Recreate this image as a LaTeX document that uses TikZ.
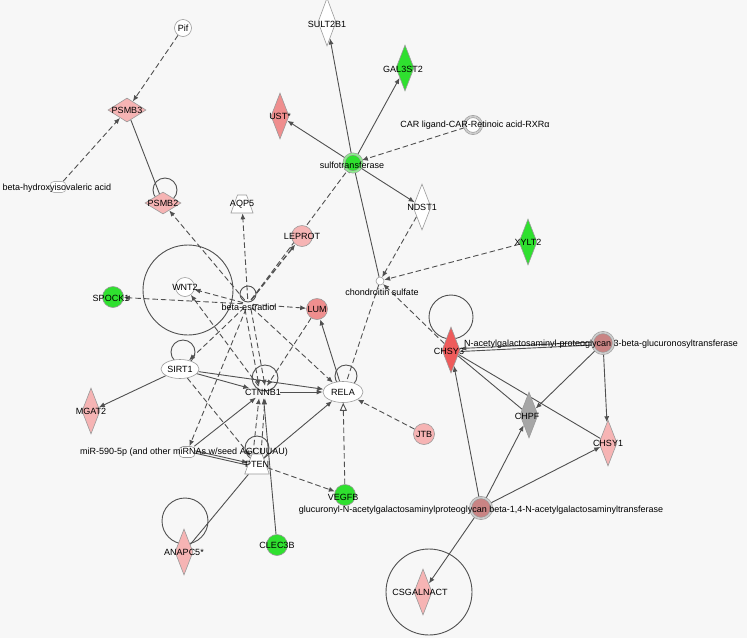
\documentclass[tikz,border=0pt]{standalone}
\usepackage{fontspec}
\setmainfont{Liberation Sans}
\usetikzlibrary{shapes.geometric, arrows.meta, positioning}
\pgfdeclarelayer{back}
\pgfdeclarelayer{wires}
\pgfsetlayers{back,wires,main}
\definecolor{bgc}{HTML}{F7F7F7}
\definecolor{upl}{HTML}{F6B4B4}
\definecolor{upm}{HTML}{EF8E8E}
\definecolor{uph}{HTML}{EE5B5B}
\definecolor{dn}{HTML}{2FE02F}
\definecolor{gry}{HTML}{A6A6A6}
\definecolor{edg}{HTML}{505050}
\definecolor{rim}{HTML}{9A9A9A}
\definecolor{enz}{HTML}{C98484}

\begin{document}
\begin{tikzpicture}[x=1pt, y=-1pt,
    mol/.style={draw=rim, line width=0.6pt, inner sep=0pt, fill=white},
    vdia/.style={mol, diamond, minimum width=18pt, minimum height=46pt},
    hdia/.style={mol, diamond, minimum width=36pt, minimum height=22pt},
    blob/.style={mol, circle, minimum size=21pt},
    oval/.style={mol, ellipse, minimum width=38pt, minimum height=19pt},
    trap/.style={mol, trapezium, trapezium angle=70, inner xsep=3pt, inner ysep=6pt, minimum width=14pt, minimum height=18pt},
    chem/.style={mol, rectangle, rounded corners=4pt, minimum width=16pt, minimum height=11pt},
    ring/.style={blob, double=gray!40, double distance=1.6pt},
    lbl/.style={font=\fontsize{9}{10}\selectfont, inner sep=0pt, text=black},
    act/.style={draw=edg, line width=0.9pt, -{Latex[length=6pt,width=5pt]}},
    ind/.style={act, dash pattern=on 5.5pt off 3pt},
    link/.style={draw=edg, line width=0.9pt},
    dlink/.style={link, dash pattern=on 5.5pt off 3pt},
    inh/.style={link, dash pattern=on 5.5pt off 3pt, -{Bar[width=7pt]}},
    opn/.style={link, dash pattern=on 5.5pt off 3pt, -{Triangle[length=8pt,width=7pt,fill=white]}},
    lp/.style={draw=edg, line width=0.9pt}
]
\begin{pgfonlayer}{back}
    \fill[bgc] (0,0) rectangle (747,638);
\end{pgfonlayer}
\useasboundingbox (0,0) rectangle (747,638);

% molecules
\node[blob, minimum size=17pt] (pif) at (183,28) {};
\node[hdia, fill=upl, minimum width=38pt, minimum height=24pt] (psmb3) at (127,110) {};
\node[chem, draw=gray!60] (bhiva) at (58,187) {};
\node[hdia, fill=upl] (psmb2) at (163,203) {};
\node[trap] (aqp5) at (242,204) {};
\node[vdia, minimum height=48pt] (sult2b1) at (327,22) {};
\node[vdia, fill=dn] (gal3st2) at (405,68) {};
\node[vdia, fill=upm] (ust) at (280,116) {};
\node[ring, minimum size=17pt] (car) at (473,125) {};
\node[ring, fill=dn, double=dn!55, minimum size=18pt] (sulfo) at (353,163) {};
\node[vdia] (ndst1) at (422,207) {};
\node[vdia, fill=dn] (xylt2) at (528,242) {};
\node[blob, fill=upl] (leprot) at (302,236) {};
\node[blob, minimum size=8pt] (chs) at (380,281) {};
\node[circle, minimum size=10pt, inner sep=0pt] (estr) at (248,304) {};
\node[blob, minimum size=19pt] (wnt2) at (185,287) {};
\node[blob, fill=dn] (spock1) at (113,297) {};
\node[blob, fill=upm] (lum) at (317,309) {};
\node[oval] (sirt1) at (180,369) {};
\node[ellipse, minimum width=34pt, minimum height=12pt, inner sep=0pt] (ctnnb1) at (263,392) {};
\node[oval, minimum width=40pt, minimum height=21pt] (rela) at (343,392) {};
\node[vdia, fill=upl] (mgat2) at (91,411) {};
\node[chem] (mir) at (187,452) {};
\node[trap, minimum width=22pt, minimum height=20pt] (pten) at (257,464) {};
\node[vdia, fill=upl] (anapc5) at (184,552) {};
\node[blob, fill=dn] (clec3b) at (277,545) {};
\node[blob, fill=dn] (vegfb) at (345,495) {};
\node[blob, fill=upl] (jtb) at (424,434) {};
\node[ring, fill=enz] (galnt) at (481,508) {};
\node[vdia, fill=upl] (csgal) at (423,592) {};
\node[vdia, fill=uph] (chsy3) at (451,350) {};
\node[ring, fill=enz] (glcat) at (603,343) {};
\node[vdia, fill=gry] (chpf) at (529,415) {};
\node[vdia, fill=upl] (chsy1) at (608,443) {};

% labels
\node[lbl] (pif-t) at (pif) {Pif};
\node[lbl] (psmb3-t) at (psmb3) {PSMB3};
\node[lbl] (bhiva-t) at (57,188) {beta-hydroxyisovaleric acid};
\node[lbl] (psmb2-t) at (psmb2) {PSMB2};
\node[lbl] (aqp5-t) at (aqp5) {AQP5};
\node[lbl] (sult2b1-t) at (327,24) {SULT2B1};
\node[lbl] (gal3st2-t) at (403,69) {GAL3ST2};
\node[lbl] (ust-t) at (ust) {UST*};
\node[lbl] (car-t) at (475,125) {CAR ligand-CAR-Retinoic acid-RXRα};
\node[lbl] (sulfo-t) at (352,165) {sulfotransferase};
\node[lbl] (ndst1-t) at (ndst1) {NDST1};
\node[lbl] (xylt2-t) at (xylt2) {XYLT2};
\node[lbl] (leprot-t) at (leprot) {LEPROT};
\node[lbl] (chs-t) at (382,292) {chondroitin sulfate};
\node[lbl] (estr-t) at (249,307) {beta-estradiol};
\node[lbl] (wnt2-t) at (wnt2) {WNT2};
\node[lbl] (spock1-t) at (111,298) {SPOCK1};
\node[lbl] (lum-t) at (lum) {LUM};
\node[lbl] (sirt1-t) at (sirt1) {SIRT1};
\node[lbl] (ctnnb1-t) at (ctnnb1) {CTNNB1};
\node[lbl] (rela-t) at (rela) {RELA};
\node[lbl] (mgat2-t) at (mgat2) {MGAT2};
\node[lbl] (mir-t) at (184,452) {miR-590-5p (and other miRNAs w/seed AGCUUAU)};
\node[lbl] (pten-t) at (pten) {PTEN};
\node[lbl] (anapc5-t) at (anapc5) {ANAPC5*};
\node[lbl] (clec3b-t) at (clec3b) {CLEC3B};
\node[lbl] (vegfb-t) at (343,497) {VEGFB};
\node[lbl] (jtb-t) at (jtb) {JTB};
\node[lbl] (galnt-t) at (481,510) {glucuronyl-N-acetylgalactosaminylproteoglycan beta-1,4-N-acetylgalactosaminyltransferase};
\node[lbl] (csgal-t) at (420,592) {CSGALNACT};
\node[lbl] (chsy3-t) at (449,351) {CHSY3};
\node[lbl] (glcat-t) at (601,344) {N-acetylgalactosaminyl-proteoglycan 3-beta-glucuronosyltransferase};
\node[lbl] (chpf-t) at (527,416) {CHPF};
\node[lbl] (chsy1-t) at (chsy1) {CHSY1};

\begin{pgfonlayer}{wires}
    % self loops
    \draw[lp] ([shift={(2pt,13pt)}]psmb2.center) circle[radius=12pt];
    \draw[lp] ([shift={(0pt,10pt)}]estr.center) circle[radius=8pt];
    \draw[lp] ([shift={(3pt,-3pt)}]wnt2.center) circle[radius=45pt];
    \draw[lp] ([shift={(3pt,17pt)}]sirt1.center) circle[radius=12pt];
    \draw[lp] ([shift={(2pt,14pt)}]ctnnb1.center) circle[radius=13pt];
    \draw[lp] ([shift={(3pt,16pt)}]rela.center) circle[radius=11pt];
    \draw[lp] ([shift={(0pt,16pt)}]pten.center) circle[radius=12pt];
    \draw[lp] ([shift={(1pt,31pt)}]anapc5.center) circle[radius=23pt];
    \draw[lp] ([shift={(0pt,33pt)}]chsy3.center) circle[radius=22pt];
    \draw[lp] ([shift={(6pt,0pt)}]csgal.center) circle[radius=43pt];

    % upper left
    \draw[ind] (pif) -- (psmb3);
    \draw[ind] (bhiva) -- (psmb3);
    \draw[link] (psmb3) -- (psmb2);

    % sulfotransferase group
    \draw[act] (sulfo) -- (sult2b1);
    \draw[act] (sulfo) -- (gal3st2);
    \draw[act] (sulfo) -- (ust);
    \draw[act] (sulfo) -- (ndst1);
    \draw[ind] (car) -- (sulfo);
    \draw[link] (sulfo) -- (chs);
    \draw[inh] (estr) -- (sulfo);
    \draw[ind] (ndst1) -- (chs);
    \draw[ind] (xylt2) -- (chs);
    \draw[ind] (chsy3) -- (chs);
    \draw[dlink] (chs) -- (rela);

    % beta-estradiol
    \draw[ind] (estr) -- (psmb2);
    \draw[ind] (estr) -- (aqp5);
    \draw[ind, line width=1.3pt] (estr) -- (leprot);
    \draw[ind] (estr) -- (wnt2);
    \draw[ind] (estr) -- (spock1);
    \draw[ind] (estr) -- (lum);
    \draw[ind] (estr) -- (sirt1);
    \draw[ind] ([xshift=-3pt]estr.south) -- ([xshift=-4pt]ctnnb1.north);
    \draw[ind] ([xshift=3pt]estr.south) -- ([xshift=2pt]ctnnb1.north);
    \draw[ind] (estr) -- (rela);
    \draw[ind] (estr) -- (mir);

    % centre
    \draw[ind] (ctnnb1) -- (wnt2);
    \draw[act] (sirt1) -- (ctnnb1);
    \draw[act] (sirt1) -- (rela);
    \draw[act] (sirt1) -- (mgat2);
    \draw[act] (ctnnb1) -- (rela);
    \draw[act] (rela) -- (lum);
    \draw[ind] (lum) -- (ctnnb1);
    \draw[ind] (sirt1) -- (pten);
    \draw[act] ([yshift=1.2pt]mir.east) -- ([yshift=1.2pt]pten.west);
    \draw[link] ([yshift=-1.2pt]mir.east) -- ([yshift=-1.2pt]pten.west);
    \draw[act] (mir) -- (ctnnb1);
    \draw[ind] ([xshift=-4pt]pten.north) -- ([xshift=-4pt]ctnnb1.south);
    \draw[ind] ([xshift=4pt]pten.north) -- ([xshift=2pt]ctnnb1.south);
    \draw[act] (pten) -- (rela);
    \draw[ind] (pten) -- (vegfb);
    \draw[opn] (vegfb) -- (rela);
    \draw[ind] (jtb) -- (rela);
    \draw[act] (clec3b) -- (ctnnb1);
    \draw[link] (anapc5) -- (pten);

    % chondroitin synthases
    \draw[act] ([yshift=1.5pt]glcat.center) -- ([yshift=1.5pt]chsy3.east);
    \draw[link] ([yshift=-1.5pt]glcat.center) -- ([yshift=-1.5pt]chsy3.east);
    \draw[act] (glcat) -- (chpf);
    \draw[act] (glcat) -- (chsy1);
    \draw[link] (chsy3) -- (chpf);
    \draw[link] (chsy3) -- (chsy1);
    \draw[act] (galnt) -- (chsy3);
    \draw[act] (galnt) -- (chpf);
    \draw[act] (galnt) -- (chsy1);
    \draw[act] (galnt) -- (csgal);
\end{pgfonlayer}
\end{tikzpicture}
\end{document}
